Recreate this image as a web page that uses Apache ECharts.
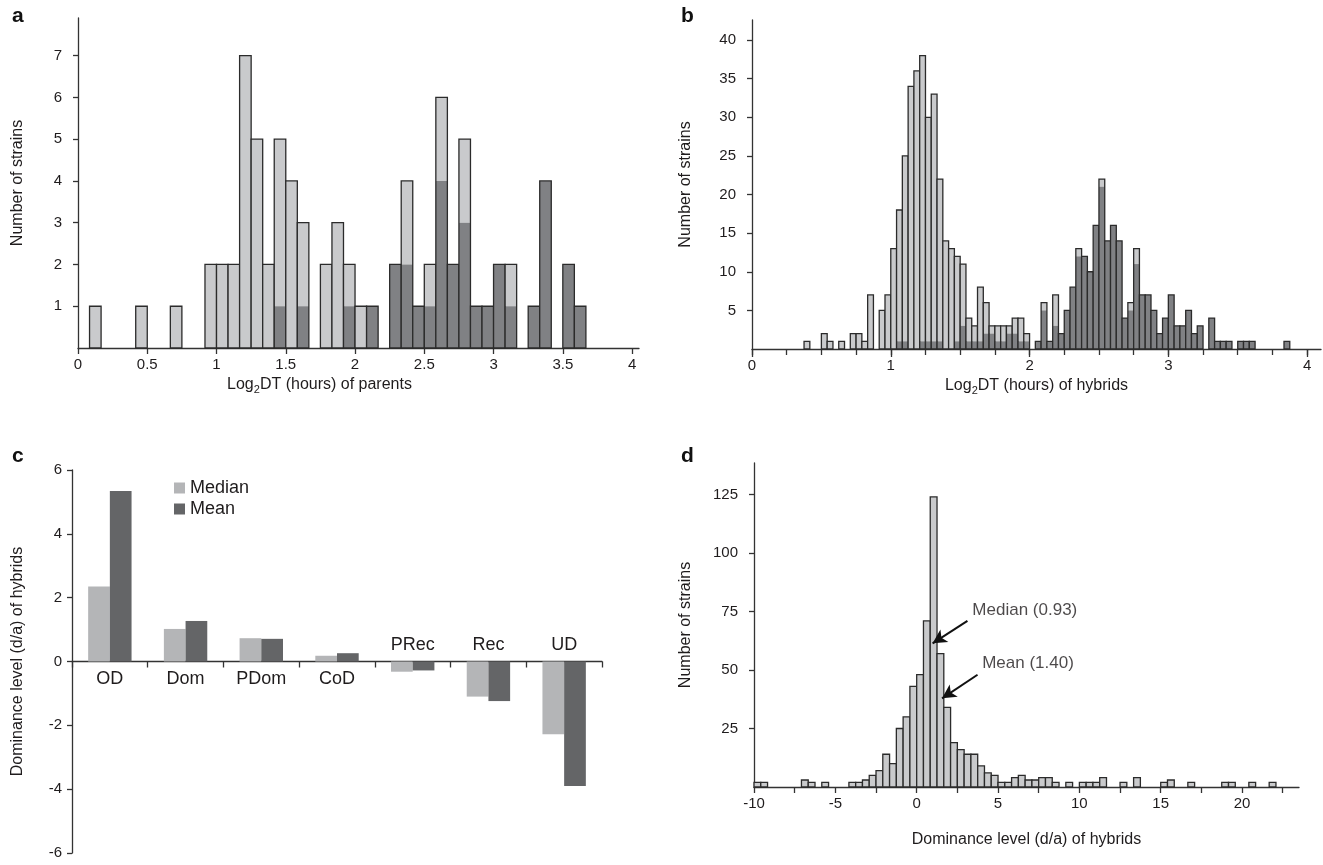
<!DOCTYPE html>
<html>
<head>
<meta charset="utf-8">
<script src="https://cdn.jsdelivr.net/npm/echarts@6/dist/echarts.min.js"></script>
<style>html,body{margin:0;padding:0;background:#fff}#c{width:1323px;height:865px}</style>
</head>
<body>
<div id="c"></div>
<script>
// ---------- Panel a: parents, bins of 1/12 from 0 ----------
const aBinStart = 0, aBinWidth = 1 / 12;
const aDark  = [0,0,0,0,0,0,0,0,0,0, 0,0,0,0,0,0,0,1,0,1, 0,0,0,1,0,1,0,2,2,1, 1,4,2,3,1,1,2,1,0,1, 4,0,2,1,0,0,0,0];
const aLight = [0,1,0,0,0,1,0,0,1,0, 0,2,2,2,7,5,2,4,4,2, 0,2,3,1,1,0,0,0,2,0, 1,2,0,2,0,0,0,1,0,0, 0,0,0,0,0,0,0,0];
const aXTicks = [0,0.5,1,1.5,2,2.5,3,3.5,4];
const aYTicks = [1,2,3,4,5,6,7];

// ---------- Panel b: hybrids, bins of 1/24 from 0 ----------
const bBinStart = 0, bBinWidth = 1 / 24;
const bDark = [0,0,0,0,0,0,0,0,0,0, 0,0,0,0,0,0,0,0,0,0, 0,0,0,0,0,1,1,0,0,1,
               1,1,1,0,0,1,3,1,1,1, 2,2,1,1,2,2,1,1,0,1, 5,1,3,2,5,8,12,12,10,16,
               21,14,16,14,4,5,11,7,7,5, 2,4,7,3,3,5,2,3,0,4, 1,1,1,0,1,1,1,0,0,0, 0,0,1,0,0,0];
const bLight = [0,0,0,0,0,0,0,0,0,1, 0,0,2,1,0,1,0,2,2,1, 7,0,5,7,13,17,24,34,36,37,
                29,32,21,14,13,11,8,3,2,7, 4,1,2,2,1,2,3,1,0,0, 1,0,4,0,0,0,1,0,0,0,
                1,0,0,0,0,1,2,0,0,0, 0,0,0,0,0,0,0,0,0,0, 0,0,0,0,0,0,0,0,0,0, 0,0,0,0,0,0];
const bXTicks = [0,0.25,0.5,0.75,1,1.25,1.5,1.75,2,2.25,2.5,2.75,3,3.25,3.5,3.75,4];
const bXLabels = [0,1,2,3,4];
const bYTicks = [5,10,15,20,25,30,35,40];

// ---------- Panel c: dominance classes ----------
const cCategories = ['OD','Dom','PDom','CoD','PRec','Rec','UD'];
const cMedian = [2.35, 1.02, 0.73, 0.18, -0.32, -1.10, -2.28];
const cMean   = [5.34, 1.27, 0.71, 0.26, -0.28, -1.24, -3.90];

// ---------- Panel d: dominance level histogram, bins of 5/12 from -10 ----------
const dBinStart = -10, dBinWidth = 5 / 12;
const dCounts = [2,2,0,0,0,0,0,3,2,0, 2,0,0,0,2,2,3,5,7,14, 10,25,30,43,48,71,124,57,34,19,
                 16,14,14,9,6,5,2,2,4,5, 3,3,4,4,2,0,2,0,2,2, 2,4,0,0,2,0,4,0,0,0,
                 2,3,0,0,2,0,0,0,0,2, 2,0,0,2,0,0,2];
const dXTicks = [-10,-7.5,-5,-2.5,0,2.5,5,7.5,10,12.5,15,17.5,20,22.5];
const dXLabels = [-10,-5,0,5,10,15,20];
const dYTicks = [25,50,75,100,125];
const dNotes = [
  {text:'Median (0.93)', label:[3.3, 75.5], from:[3.12, 71], to:[0.98, 61.4]},
  {text:'Mean (1.40)',   label:[3.9, 53],   from:[3.74, 48], to:[1.56, 37.9]}
];

const LIGHT = '#c9cacc', DARK = '#808184', EDGE = '#2b2b2b';
const FONT = "'Liberation Sans', Arial, Helvetica, sans-serif";
const AXC = '#333';
const TXT = '#1f1c1d';

function histSeries(xi, yi, start, width, dark, light) {
  const data = [];
  for (let i = 0; i < light.length; i++) {
    const d = dark ? dark[i] : 0;
    if (d + light[i] > 0) data.push([start + i * width, start + (i + 1) * width, d, light[i]]);
  }
  return {
    type: 'custom', xAxisIndex: xi, yAxisIndex: yi, data, silent: true, clip: false,
    encode: {x: [0, 1], y: [2, 3]},
    renderItem: function (params, api) {
      const x0 = api.value(0), x1 = api.value(1), d = api.value(2), l = api.value(3);
      const b0 = api.coord([x0, 0]), b1 = api.coord([x1, d]), t = api.coord([x1, d + l]);
      const left = b0[0], w = b1[0] - b0[0], base = b0[1], mid = b1[1], top = t[1];
      const ch = [];
      if (l > 0) ch.push({type: 'rect', shape: {x: left, y: top, width: w, height: mid - top}, style: {fill: LIGHT}});
      if (d > 0) ch.push({type: 'rect', shape: {x: left, y: mid, width: w, height: base - mid}, style: {fill: DARK}});
      ch.push({type: 'rect', shape: {x: left, y: top, width: w, height: base - top},
               style: {fill: 'none', stroke: EDGE, lineWidth: 1.3}});
      return {type: 'group', children: ch};
    }
  };
}

const axisLine = {lineStyle: {color: AXC, width: 1.3}};
const lbl = {color: TXT, fontSize: 15, fontFamily: FONT};
function nameStyle(pad) {
  return {color: TXT, fontSize: 16, fontFamily: FONT, lineHeight: 21, padding: pad || 0,
    rich: {s: {fontSize: 11, lineHeight: 11, verticalAlign: 'bottom', fontFamily: FONT, color: TXT}}};
}

function valueX(grid, min, max, ticks, labels, name, gap, pad) {
  return {type: 'value', gridIndex: grid, min, max, position: 'bottom',
    axisLine: Object.assign({onZero: false}, axisLine),
    axisTick: {show: true, length: 6, customValues: ticks, lineStyle: {color: AXC, width: 1.3}},
    axisLabel: Object.assign({customValues: labels, margin: 9}, lbl),
    splitLine: {show: false},
    name, nameLocation: 'middle', nameGap: gap, nameTextStyle: nameStyle(pad)};
}
function valueY(grid, min, max, ticks, name, gap) {
  return {type: 'value', gridIndex: grid, min, max,
    axisLine: Object.assign({show: true, onZero: false}, axisLine),
    axisTick: {show: true, length: 5, customValues: ticks, lineStyle: {color: AXC, width: 1.3}},
    axisLabel: Object.assign({customValues: ticks, margin: 16}, lbl),
    splitLine: {show: false},
    name, nameLocation: 'middle', nameGap: gap, nameTextStyle: nameStyle()};
}

const chart = echarts.init(document.getElementById('c'), null, {renderer: 'canvas'});
const letter = {fontSize: 21, fontWeight: 'bold', color: '#111', fontFamily: FONT};
const option = {
  animation: false,
  backgroundColor: '#fff',
  textStyle: {fontFamily: FONT},
  title: [
    {text: 'a', left: 7, top: 1, textStyle: letter},
    {text: 'b', left: 676, top: 1, textStyle: letter},
    {text: 'c', left: 7, top: 441, textStyle: letter},
    {text: 'd', left: 676, top: 441, textStyle: letter}
  ],
  grid: [
    {left: 78, top: 18, width: 561, height: 330},
    {left: 752, top: 20, width: 569, height: 329},
    {left: 72, top: 470, width: 530, height: 383},
    {left: 754, top: 463, width: 545, height: 324}
  ],
  legend: {
    data: ['Median', 'Mean'], orient: 'vertical', left: 169, top: 474, itemWidth: 11, itemHeight: 11,
    itemGap: 3, icon: 'rect', textStyle: {fontSize: 18, color: TXT, fontFamily: FONT}
  },
  xAxis: [
    valueX(0, 0, 4.05, aXTicks, aXTicks, 'Log{s|2}DT (hours) of parents', 26, [0, 78, 0, 0]),
    valueX(1, 0, 4.1, bXTicks, bXLabels, 'Log{s|2}DT (hours) of hybrids', 26),
    {type: 'category', gridIndex: 2, data: cCategories,
      axisLine: Object.assign({onZero: true}, axisLine),
      axisTick: {show: true, length: 6, alignWithLabel: false, interval: 0, lineStyle: {color: AXC, width: 1.3}},
      axisLabel: {show: false}},
    valueX(3, -10, 23.5, dXTicks, dXLabels, 'Dominance level (d/a) of hybrids', 42),
    Object.assign(valueX(1, 0, 4.1, bXLabels, [], '', 0), {axisLine: {show: false}, axisLabel: {show: false},
      axisTick: {show: true, length: 8, customValues: bXLabels, lineStyle: {color: AXC, width: 1.3}}})
  ],
  yAxis: [
    valueY(0, 0, 7.9, aYTicks, 'Number of strains', 50),
    valueY(1, 0, 42.6, bYTicks, 'Number of strains', 56),
    {type: 'value', gridIndex: 2, min: -6, max: 6, interval: 2,
      axisLine: Object.assign({show: true, onZero: false}, axisLine),
      axisTick: {show: true, length: 5, lineStyle: {color: AXC, width: 1.3}},
      axisLabel: Object.assign({margin: 10}, lbl), splitLine: {show: false},
      name: 'Dominance level (d/a) of hybrids', nameLocation: 'middle', nameGap: 44, nameTextStyle: nameStyle()},
    valueY(3, 0, 138.5, dYTicks, 'Number of strains', 58)
  ],
  series: [
    histSeries(0, 0, aBinStart, aBinWidth, aDark, aLight),
    histSeries(1, 1, bBinStart, bBinWidth, bDark, bLight),
    {name: 'Median', type: 'bar', xAxisIndex: 2, yAxisIndex: 2, data: cMedian, barWidth: 21.7, barGap: '0%',
      itemStyle: {color: '#b4b5b7'}, silent: true},
    {name: 'Mean', type: 'bar', xAxisIndex: 2, yAxisIndex: 2, data: cMean, barWidth: 21.7, barGap: '0%',
      itemStyle: {color: '#646567'}, silent: true},
    {type: 'custom', xAxisIndex: 2, yAxisIndex: 2, silent: true, clip: false,
      data: cCategories.map((c, i) => [i, cMean[i] >= 0 ? -1 : 1]),
      renderItem: function (params, api) {
        const p = api.coord([api.value(0), 0]);
        const below = api.value(1) < 0;
        return {type: 'text', x: p[0], y: below ? p[1] + 9 : p[1] - 7,
          style: {text: cCategories[params.dataIndex], fill: TXT, font: '18px ' + FONT,
            align: 'center', verticalAlign: below ? 'top' : 'bottom'}};
      }},
    histSeries(3, 3, dBinStart, dBinWidth, null, dCounts),
    {type: 'scatter', xAxisIndex: 3, yAxisIndex: 3, symbolSize: 0, silent: true,
      data: dNotes.map(n => ({value: n.label, label: {formatter: n.text}})),
      label: {show: true, position: 'right', distance: 2, fontSize: 17, color: TXT, fontFamily: FONT},
      markLine: {silent: true, symbol: ['none', 'arrow'], symbolSize: [11, 14], animation: false,
        lineStyle: {color: '#111', width: 2, type: 'solid'}, label: {show: false},
        data: dNotes.map(n => [{coord: n.from}, {coord: n.to}])}}
  ]
};
chart.setOption(option);
</script>
</body>
</html>
